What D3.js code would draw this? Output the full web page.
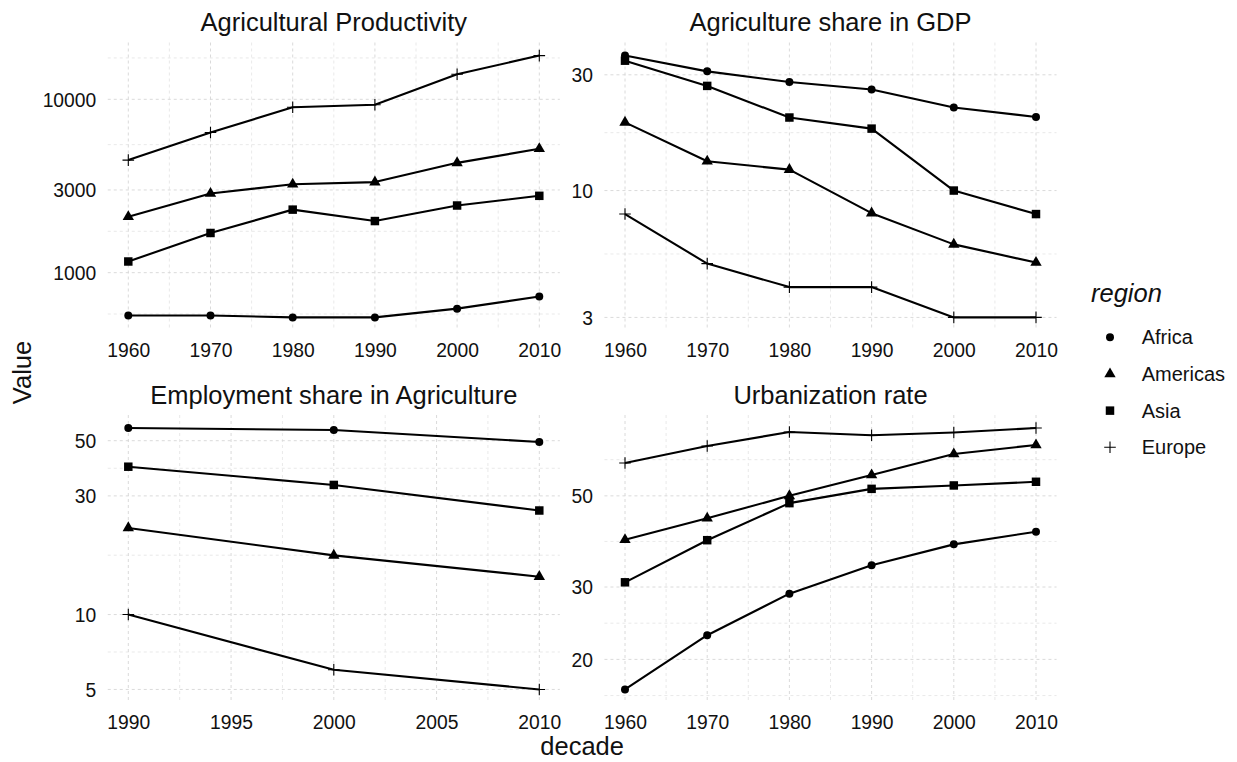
<!DOCTYPE html>
<html>
<head>
<meta charset="utf-8">
<script src="https://cdn.jsdelivr.net/npm/d3@7"></script>
<style>
  html, body { margin: 0; padding: 0; background: #ffffff; }
  svg { display: block; }
  text { font-family: "Liberation Sans", Arial, sans-serif; fill: #111; }
</style>
</head>
<body>
<svg id="chart" width="1237" height="762"></svg>
<script>
// ---------------- data ----------------
const regions = ["Africa", "Americas", "Asia", "Europe"];
const decades = [1960, 1970, 1980, 1990, 2000, 2010];
const empYears = [1990, 2000, 2010];

const prodAfrica   = [566, 566, 552, 552, 620, 729];
const prodAmericas = [2100, 2860, 3235, 3330, 4300, 5180];
const prodAsia     = [1160, 1694, 2310, 1985, 2440, 2775];
const prodEurope   = [4460, 6440, 8990, 9310, 13950, 17870];

const gdpAfrica   = [36.0, 31.0, 28.0, 26.1, 22.0, 20.1];
const gdpAmericas = [19.1, 13.2, 12.2, 8.07, 6.0, 5.05];
const gdpAsia     = [34.3, 27.0, 20.0, 18.0, 10.0, 8.0];
const gdpEurope   = [8.0, 5.0, 4.0, 4.0, 3.0, 3.0];

const empAfrica   = [56.2, 55.2, 49.4];
const empAmericas = [22.3, 17.3, 14.2];
const empAsia     = [39.3, 33.2, 26.2];
const empEurope   = [10.0, 6.0, 5.0];

const urbAfrica   = [16.9, 22.9, 28.9, 33.9, 38.1, 40.9];
const urbAmericas = [39.1, 44.1, 50.0, 56.2, 63.2, 66.5];
const urbAsia     = [30.8, 39.0, 48.0, 52.0, 53.0, 54.1];
const urbEurope   = [60.1, 66.1, 71.5, 70.2, 71.3, 73.1];

const prodTicks = [1000, 3000, 10000];
const gdpTicks  = [3, 10, 30];
const empTicks  = [5, 10, 30, 50];
const urbTicks  = [20, 30, 50];
const decadeTicks = [1960, 1970, 1980, 1990, 2000, 2010];
const empYearTicks = [1990, 1995, 2000, 2005, 2010];

const panelTitles = ["Agricultural Productivity", "Agriculture share in GDP",
                     "Employment share in Agriculture", "Urbanization rate"];

// ---------------- layout ----------------
const svg = d3.select("#chart");
const colX = [[107.75, 559.85], [604.45, 1056.55]];
const rowY = [[42.5, 330.5], [415, 702.5]];
const FONT = '"Liberation Sans", Arial, sans-serif';

const panels = [
  { title: panelTitles[0], x: decades, xt: decadeTicks, yt: prodTicks,
    series: [prodAfrica, prodAmericas, prodAsia, prodEurope], col: 0, row: 0 },
  { title: panelTitles[1], x: decades, xt: decadeTicks, yt: gdpTicks,
    series: [gdpAfrica, gdpAmericas, gdpAsia, gdpEurope], col: 1, row: 0 },
  { title: panelTitles[2], x: empYears, xt: empYearTicks, yt: empTicks,
    series: [empAfrica, empAmericas, empAsia, empEurope], col: 0, row: 1 },
  { title: panelTitles[3], x: decades, xt: decadeTicks, yt: urbTicks,
    series: [urbAfrica, urbAmericas, urbAsia, urbEurope], col: 1, row: 1 }
];

// shapes
const symCircle = d3.symbol().type(d3.symbolCircle).size(50)();
const symTri = d3.symbol().type(d3.symbolTriangle).size(56)();
const symSquare = d3.symbol().type(d3.symbolSquare).size(72)();
function drawShape(g, i, x, y) {
  if (i === 3) {
    const h = 5.8;
    g.append("path")
      .attr("d", `M${x - h},${y}H${x + h}M${x},${y - h}V${y + h}`)
      .attr("stroke", "#000").attr("stroke-width", 1.1).attr("fill", "none");
  } else {
    const p = [symCircle, symTri, symSquare][i];
    g.append("path").attr("d", p)
      .attr("transform", `translate(${x},${y})`)
      .attr("fill", "#000");
  }
}

// minor breaks (midpoints in transformed space, extended one step)
function minorBreaks(majors, lo, hi) {
  let b = majors.slice();
  const bd = b[1] - b[0];
  if (lo < b[0]) b = [b[0] - bd].concat(b);
  if (hi > b[b.length - 1]) b = b.concat([b[b.length - 1] + bd]);
  const out = [];
  for (let i = 0; i < b.length - 1; i++) out.push((b[i] + b[i + 1]) / 2);
  return out.filter(v => v >= lo && v <= hi);
}

panels.forEach(p => {
  const [x0, x1] = colX[p.col];
  const [y0, y1] = rowY[p.row];
  const g = svg.append("g");

  // x scale with 5% expansion
  const xe = d3.extent(p.x);
  const xs = (xe[1] - xe[0]) * 0.05;
  const x = d3.scaleLinear().domain([xe[0] - xs, xe[1] + xs]).range([x0, x1]);

  // y log scale with 5% expansion in log space
  const all = p.series.flat();
  const le = d3.extent(all).map(Math.log10);
  const ls = (le[1] - le[0]) * 0.05;
  const y = d3.scaleLog().domain([Math.pow(10, le[0] - ls), Math.pow(10, le[1] + ls)]).range([y1, y0]);

  // minor grids
  const xMin = minorBreaks(p.xt, x.domain()[0], x.domain()[1]);
  const lyMaj = p.yt.map(Math.log10);
  const yMin = minorBreaks(lyMaj, Math.log10(y.domain()[0]), Math.log10(y.domain()[1])).map(v => Math.pow(10, v));

  const grid = g.append("g");
  xMin.forEach(v => grid.append("line")
    .attr("x1", x(v)).attr("x2", x(v)).attr("y1", y0).attr("y2", y1)
    .attr("stroke", "#e3e3e3").attr("stroke-width", 0.8).attr("stroke-dasharray", "3,3"));
  yMin.forEach(v => grid.append("line")
    .attr("x1", x0).attr("x2", x1).attr("y1", y(v)).attr("y2", y(v))
    .attr("stroke", "#e3e3e3").attr("stroke-width", 0.8).attr("stroke-dasharray", "3,3"));
  p.xt.forEach(v => grid.append("line")
    .attr("x1", x(v)).attr("x2", x(v)).attr("y1", y0).attr("y2", y1)
    .attr("stroke", "#d6d6d6").attr("stroke-width", 0.9).attr("stroke-dasharray", "3,3"));
  p.yt.forEach(v => grid.append("line")
    .attr("x1", x0).attr("x2", x1).attr("y1", y(v)).attr("y2", y(v))
    .attr("stroke", "#d6d6d6").attr("stroke-width", 0.9).attr("stroke-dasharray", "3,3"));

  // axes (labels only) via d3 axes
  const xAxis = d3.axisBottom(x).tickValues(p.xt).tickSize(0).tickPadding(0).tickFormat(d3.format("d"));
  const xg = g.append("g").attr("transform", `translate(0,${y1 + 26.5})`).call(xAxis);
  xg.select(".domain").remove();
  xg.selectAll("text").attr("dy", 0).attr("y", 0)
    .style("font-size", "19.3px").style("font-family", FONT).attr("fill", "#111");

  const yAxis = d3.axisLeft(y).tickValues(p.yt).tickSize(0).tickPadding(0).tickFormat(d3.format("d"));
  const yg = g.append("g").attr("transform", `translate(${x0 - 11.5},0)`).call(yAxis);
  yg.select(".domain").remove();
  yg.selectAll("text").attr("x", 0).attr("dy", "0.35em")
    .style("font-size", "19.3px").style("font-family", FONT).attr("fill", "#111");

  // title
  g.append("text").attr("x", (x0 + x1) / 2).attr("y", y0 - 11.3)
    .attr("text-anchor", "middle").style("font-size", "25.5px").text(p.title);

  // lines and points
  const line = d3.line().x((d, i) => x(p.x[i])).y(d => y(d));
  p.series.forEach((s, si) => {
    g.append("path").datum(s).attr("d", line)
      .attr("fill", "none").attr("stroke", "#000").attr("stroke-width", 2.1)
      .attr("stroke-linejoin", "round");
  });
  p.series.forEach((s, si) => {
    s.forEach((v, i) => drawShape(g, si, x(p.x[i]), y(v)));
  });
});

// axis titles
svg.append("text").attr("x", (colX[0][0] + colX[1][1]) / 2).attr("y", 755)
  .attr("text-anchor", "middle").style("font-size", "25.5px").text("decade");
svg.append("text")
  .attr("transform", `translate(30.5,${(rowY[0][0] + rowY[1][1]) / 2}) rotate(-90)`)
  .attr("text-anchor", "middle").style("font-size", "25.5px").text("Value");

// legend
const lg = svg.append("g");
lg.append("text").attr("x", 1091).attr("y", 302).style("font-size", "25.5px")
  .style("font-style", "italic").text("region");
const legendY = d3.scalePoint().domain(regions).range([337.3, 447.3]);
regions.forEach((r, i) => {
  drawShape(lg, i, 1110, legendY(r));
  lg.append("text").attr("x", 1141.7).attr("y", legendY(r) + 7)
    .style("font-size", "20px").text(r);
});
</script>
</body>
</html>
